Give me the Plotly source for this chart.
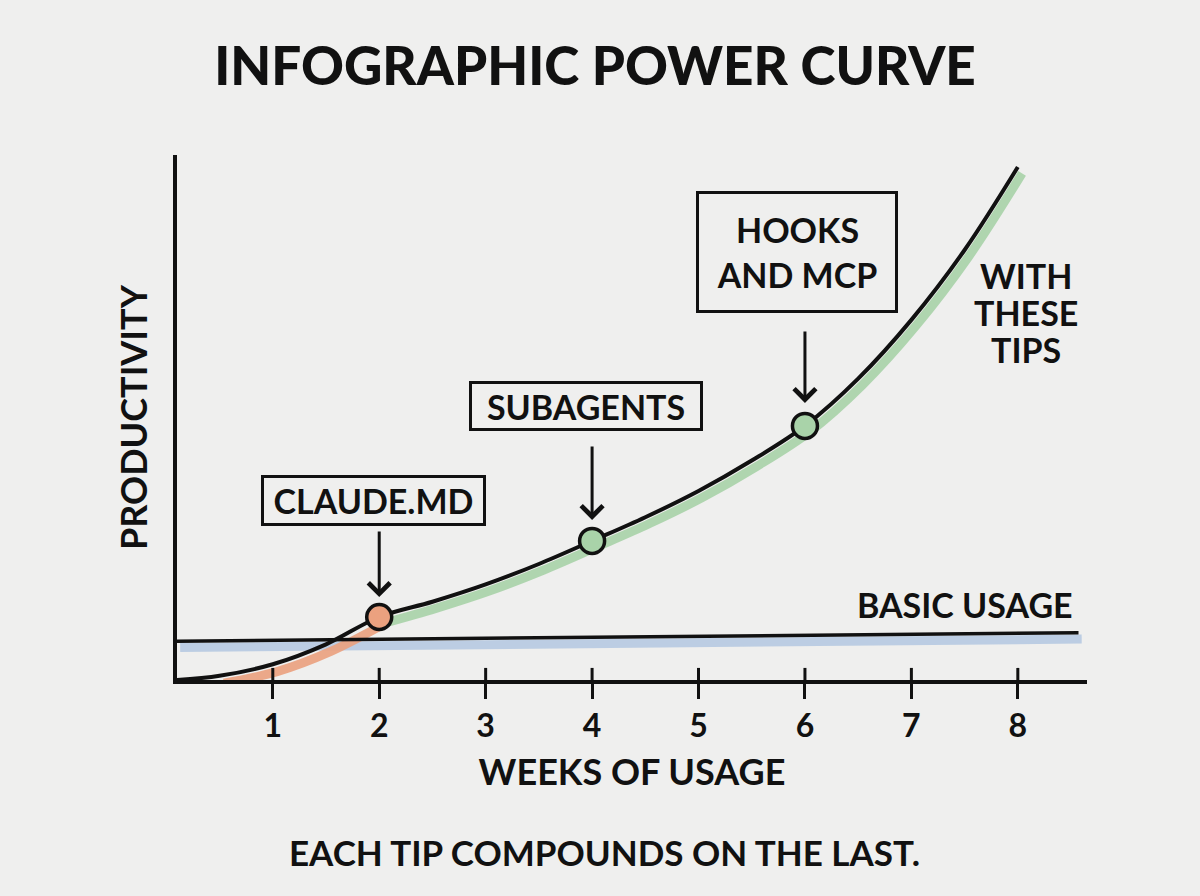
import plotly.graph_objects as go

# ---- data ----
weeks = [0.1, 0.5, 1.0, 1.5, 2.0, 2.5, 3.0, 3.5, 4.0, 4.5, 5.0, 5.5, 6.0, 6.5, 7.0, 7.5, 8.0]
productivity = [0.0, 0.8, 3.0, 6.8, 12.0, 14.9, 18.2, 22.1, 26.5, 31.0, 36.0, 41.8, 48.4, 57.4, 68.6, 81.9, 97.7]

basic_x = [0.1, 8.57]
basic_y = [7.4, 9.0]

tip_labels = ["CLAUDE.MD", "SUBAGENTS", "HOOKS<br>AND MCP"]
tip_weeks = [2, 4, 6]
tip_values = [12.0, 26.5, 48.4]
tip_colors = ["#eba17f", "#a9d3a9", "#a9d3a9"]

tick_vals = [1, 2, 3, 4, 5, 6, 7, 8]
tick_text = ["1", "2", "3", "4", "5", "6", "7", "8"]

curve_label_lines = ["WITH", "THESE", "TIPS"]
basic_label = "BASIC USAGE"
title_text = "INFOGRAPHIC POWER CURVE"
x_title = "WEEKS OF USAGE"
y_title = "PRODUCTIVITY"
footer = "EACH TIP COMPOUNDS ON THE LAST."

BG = "#efefee"
FONT = "Lato"
INK = "#111111"

# plot-area geometry in pixels (used only to convert pixel placements to paper units)
PL, PR, PT, PB = 177, 1087, 155, 680

fig = go.Figure()

# highlight strokes (slightly offset under the ink lines)
split = weeks.index(2.0)
fig.add_trace(go.Scatter(x=[v + 0.03 for v in basic_x], y=[v - 1.2 for v in basic_y], mode="lines",
                         line=dict(color="#b7cae2", width=9), opacity=0.9, hoverinfo="skip"))
fig.add_trace(go.Scatter(x=[v + 0.04 for v in weeks[1:split + 1]], y=[v - 1.4 for v in productivity[1:split + 1]],
                         mode="lines", line=dict(color="#eba17f", width=9, shape="spline"), opacity=0.9,
                         hoverinfo="skip"))
fig.add_trace(go.Scatter(x=[v + 0.04 for v in weeks[split:]], y=[v - 1.2 for v in productivity[split:]],
                         mode="lines", line=dict(color="#a9d3a9", width=9, shape="spline"), opacity=0.9,
                         hoverinfo="skip"))

# ink lines
fig.add_trace(go.Scatter(x=basic_x, y=basic_y, mode="lines", line=dict(color=INK, width=3.5), hoverinfo="skip"))
fig.add_trace(go.Scatter(x=weeks, y=productivity, mode="lines",
                         line=dict(color=INK, width=4, shape="spline", smoothing=1.0), hoverinfo="skip"))

# tip markers
fig.add_trace(go.Scatter(x=tip_weeks, y=tip_values, mode="markers",
                         marker=dict(size=25, color=tip_colors, line=dict(color=INK, width=3.5)),
                         hoverinfo="skip"))

# tick marks crossing the axis (inside part; outside part drawn by axis ticks)
for t in tick_vals:
    fig.add_shape(type="line", x0=t, x1=t, y0=0, y1=2.3, xref="x", yref="y",
                  line=dict(color=INK, width=3))

# boxed labels and arrows
box_shift = [(-6, 117, 211, 37), (-6, 135, 220, 36), (-8, 174, 188, 108)]
arrow_ay = [-87, -96, -96]
arrow_standoff = [20, 21, 23]
for lab, xw, yv, (xs, ys, w, h), ay, so in zip(tip_labels, tip_weeks, tip_values, box_shift, arrow_ay, arrow_standoff):
    fig.add_annotation(x=xw, y=yv, xref="x", yref="y", text=lab, showarrow=False,
                       xshift=xs, yshift=ys, width=w, height=h, align="center",
                       bordercolor=INK, borderwidth=3, borderpad=4, bgcolor=BG,
                       font=dict(family=FONT, size=34, color=INK, weight="bold"))
    fig.add_annotation(x=xw, y=yv, xref="x", yref="y", text="", showarrow=True,
                       ax=0, ay=ay, arrowhead=4, arrowsize=1.4, arrowwidth=3,
                       arrowcolor=INK, standoff=so)

# "WITH / THESE / TIPS" label beside the curve (tight line spacing)
for i, line in enumerate(curve_label_lines):
    fig.add_annotation(x=8.08, y=70, xref="x", yref="y", text=line, showarrow=False,
                       yshift=(1 - i) * 37, font=dict(family=FONT, size=34, color=INK, weight="bold"))

fig.add_annotation(x=7.5, y=14.3, xref="x", yref="y", text=basic_label, showarrow=False,
                   font=dict(family=FONT, size=34, color=INK, weight="bold"))

# footer (paper units are relative to the plot area)
fig.add_annotation(x=(604 - PL) / (PR - PL), y=(PB - 852) / (PB - PT), xref="paper", yref="paper",
                   text=footer, showarrow=False, yanchor="middle", xanchor="center",
                   font=dict(family=FONT, size=35, color=INK, weight="bold"))

fig.update_layout(
    width=1200, height=896,
    paper_bgcolor=BG, plot_bgcolor=BG,
    margin=dict(l=PL, r=1200 - PR, t=PT, b=896 - PB),
    showlegend=False,
    title=dict(text=title_text, x=595 / 1200, xanchor="center", y=1 - 66 / 896, yanchor="middle",
               font=dict(family=FONT, size=53, color=INK, weight=900)),
    xaxis=dict(range=[0.1, 8.65], showgrid=False, zeroline=False, showline=True, linecolor=INK, linewidth=3.5,
               tickvals=tick_vals, ticktext=tick_text, ticks="outside", ticklen=15, tickwidth=3, tickcolor=INK,
               tickfont=dict(family=FONT, size=32, color=INK, weight="bold"),
               title=dict(text=x_title, standoff=18, font=dict(family=FONT, size=36, color=INK, weight="bold"))),
    yaxis=dict(range=[0, 100], showgrid=False, zeroline=False, showline=True, linecolor=INK, linewidth=3.5,
               showticklabels=False, ticks="",
               title=dict(text=y_title, standoff=16, font=dict(family=FONT, size=36, color=INK, weight="bold"))),
)

fig.write_html("out.html")
